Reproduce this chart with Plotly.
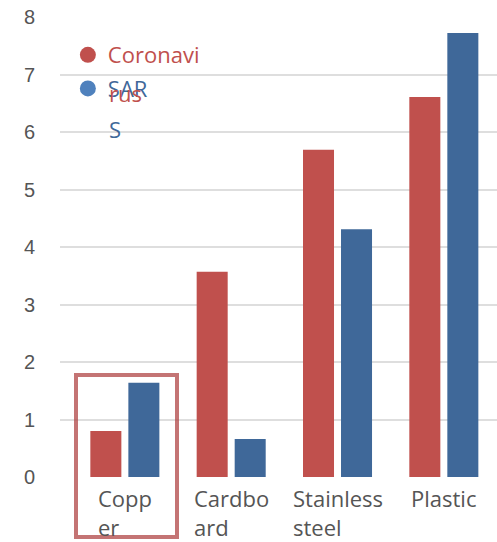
import plotly.graph_objects as go

categories = ["Copper", "Cardboard", "Stainless steel", "Plastic"]
label_line1 = ["Copp", "Cardbo", "Stainless", "Plastic"]
label_line2 = ["er", "ard", "steel", ""]
series_names = ["Coronavirus", "SARS"]
legend_line1 = ["Coronavi", "SAR"]
legend_line2 = ["rus", "S"]
corona_values = [0.80, 3.57, 5.69, 6.61]
sars_values = [1.64, 0.66, 4.31, 7.72]
y_ticks = [0, 1, 2, 3, 4, 5, 6, 7, 8]

RED = "#c0504d"
BLUE = "#3f6899"
BLUE_LIGHT = "#4f81bd"
GRAY_TXT = "#555555"
LABEL_FONT = "Open Sans"
LABEL_SIZE = 22

xs = list(range(len(categories)))

fig = go.Figure()
fig.add_trace(go.Bar(x=xs, y=corona_values, name=series_names[0],
                     marker=dict(color=RED, line=dict(width=0)), showlegend=False))
fig.add_trace(go.Bar(x=xs, y=sars_values, name=series_names[1],
                     marker=dict(color=BLUE, line=dict(width=0)), showlegend=False))
# legend entries (circle symbols)
fig.add_trace(go.Scatter(x=[None], y=[None], mode="markers",
                         name=f"<span style='color:{RED}'>{legend_line1[0]}</span>",
                         legendgroup="a",
                         marker=dict(color=RED, size=16, symbol="circle")))
fig.add_trace(go.Scatter(x=[None], y=[None], mode="markers",
                         name=f"<span style='color:{BLUE}'>{legend_line1[1]}</span>",
                         legendgroup="b",
                         marker=dict(color=BLUE_LIGHT, size=16, symbol="circle")))

annotations = []
for i, (l1, l2) in enumerate(zip(label_line1, label_line2)):
    txt = l1 if not l2 else f"{l1}<br>{l2}"
    annotations.append(dict(x=i, xref="x", y=0, yref="paper", yanchor="top",
                            yshift=-4, xanchor="center", align="left",
                            text=txt, showarrow=False,
                            font=dict(family=LABEL_FONT, size=LABEL_SIZE, color=GRAY_TXT)))
# wrapped second lines of legend labels
annotations.append(dict(x=0.1076, xref="paper", y=0.835, yref="paper",
                        xanchor="left", yanchor="middle", text=legend_line2[0],
                        showarrow=False,
                        font=dict(family=LABEL_FONT, size=LABEL_SIZE, color=RED)))
annotations.append(dict(x=0.1076, xref="paper", y=0.757, yref="paper",
                        xanchor="left", yanchor="middle", text=legend_line2[1],
                        showarrow=False,
                        font=dict(family=LABEL_FONT, size=LABEL_SIZE, color=BLUE)))

fig.update_layout(
    width=497, height=542,
    margin=dict(l=60, r=0, t=17, b=65),
    paper_bgcolor="white", plot_bgcolor="white",
    barmode="group", bargap=0.285, bargroupgap=0.184,
    xaxis=dict(range=[-0.61, 3.5], showticklabels=False, showgrid=False,
               zeroline=False, showline=False, ticks=""),
    yaxis=dict(range=[0, 8], tickvals=y_ticks, showgrid=True,
               gridcolor="#dedede", gridwidth=2, zeroline=False, showline=False,
               ticks="", ticklabelstandoff=24,
               tickfont=dict(family="Liberation Sans", size=20, color=GRAY_TXT)),
    legend=dict(x=0.018, y=0.963, xanchor="left", yanchor="top",
                bgcolor="rgba(0,0,0,0)", traceorder="grouped", tracegroupgap=2,
                font=dict(family=LABEL_FONT, size=LABEL_SIZE, color=RED)),
    annotations=annotations,
    shapes=[dict(type="rect", xref="paper", yref="paper",
                 x0=(76 - 60) / 437, x1=(177 - 60) / 437,
                 y0=(477 - 537) / 460, y1=(477 - 375) / 460,
                 line=dict(color="rgba(176,70,70,0.75)", width=4),
                 fillcolor="rgba(0,0,0,0)", layer="above")],
    showlegend=True,
)

fig.write_html("out.html")
